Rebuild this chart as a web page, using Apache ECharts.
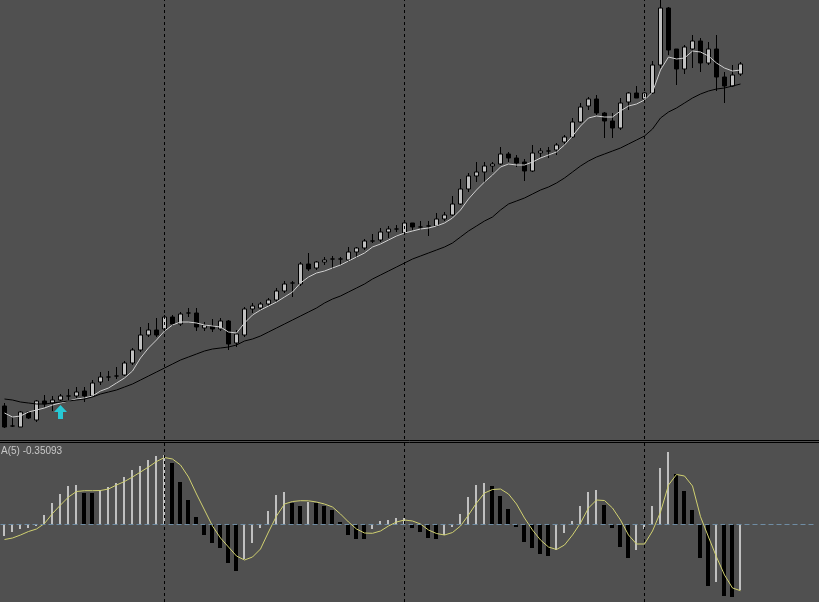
<!DOCTYPE html>
<html>
<head>
<meta charset="utf-8">
<script src="https://cdn.jsdelivr.net/npm/echarts@6/dist/echarts.min.js"></script>
<style>
html,body{margin:0;padding:0;background:#505050;}
#c{width:819px;height:602px;}
</style>
</head>
<body>
<div id="c"></div>
<script>
// ---- price bars (arbitrary price units) ----
const openP = [44,24,23,38,30,49,47,50,54,54,
  59,54,68,73,74,75,87,100,115,120,
  121,133,126,137,137,122,124,121,129,107,
  115,141,142,146,150,159,167,166,186,182,
  188,191,191,190,198,202,209,210,218,221,
  217,227,223,224,224,231,235,246,261,274,
  278,284,286,296,292,288,279,297,299,300,
  308,313,328,344,351,337,329,322,348,357,
  351,357,385,442,401,381,401,409,387,401,
  373,364,376];
const closeP = [23,24,38,32,49,46,50,54,54,58,
  54,67,73,73,74,87,100,115,120,115,
  133,126,136,137,123,125,121,129,106,116,
  141,144,146,150,159,166,167,186,181,188,
  190,191,191,198,202,209,209,218,221,221,
  227,223,223,224,231,235,246,261,274,278,
  284,286,296,292,287,279,297,299,299,305,
  313,328,343,351,337,329,322,347,357,352,
  357,385,442,400,381,403,409,387,401,373,
  364,375,386];
const highP = [47,33,39,39,50,55,54,56,61,63,
  63,70,78,79,83,89,102,123,127,132,
  135,135,138,142,142,128,131,132,130,120,
  143,147,148,152,162,169,169,188,197,189,
  193,194,193,203,203,211,216,222,224,225,
  229,227,229,229,237,238,254,271,277,288,
  288,288,303,298,295,291,305,302,303,307,
  315,332,347,353,355,338,337,352,358,364,
  358,389,450,443,401,405,415,412,408,415,
  378,385,388];
const lowP = [22,23,23,31,28,43,39,49,49,52,
  48,53,65,69,71,74,85,98,113,113,
  118,124,124,133,119,119,118,119,100,103,
  113,137,140,144,148,157,153,164,179,180,
  185,181,185,188,192,200,207,208,212,218,
  215,220,220,214,223,229,234,245,258,268,
  267,278,285,288,283,269,278,293,292,295,
  305,312,327,340,335,312,312,320,340,352,
  350,356,382,395,365,376,382,378,385,359,
  347,363,374];
// fast moving average (light line)
const maFast = [37,33,34,38,40,42,45,47,49,51,
  52,54,59,62,67,72,79,92,102,110,
  119,125,128,128,127,125,124,123,118,117,
  127,135,140,144,148,153,158,167,173,177,
  179,182,185,189,193,197,203,206,210,214,
  217,219,221,222,224,227,232,240,251,260,
  268,275,283,286,285,285,288,292,295,298,
  305,314,324,332,334,333,333,339,344,346,
  350,358,380,393,391,392,399,398,394,387,
  382,379,380];
// slow moving average (black line)
const maSlow = [51,50,48,47,46,46,47,48,49,50,
  51,53,56,58,60,63,66,70,74,78,
  82,86,90,93,96,99,101,102,103,105,
  109,111,114,118,122,126,130,134,138,142,
  147,151,154,158,162,166,171,175,179,183,
  187,191,194,197,200,203,207,213,219,224,
  229,233,240,246,249,252,256,260,263,267,
  272,278,284,289,293,296,299,302,306,310,
  314,321,332,338,342,347,352,356,359,361,
  362,364,366];
// buy signal arrow
const arrowIdx = [7];
const arrowVal = [38];
// ---- oscillator panel ----
const osma = [-11.7,-7.7,-5.3,-4.3,-2,9,21.3,30,38,39,
  31.3,31.3,34,36.7,41.3,46.7,54,58,64,68.3,
  69,61.3,42.3,24,7.3,-11,-18.7,-23.7,-38.7,-46.7,
  -35.3,-18.7,-4.3,13.3,29,32.3,21.3,18.3,22.3,21.3,
  18.3,14,2.3,-11,-15,-15,-5.3,3,4,5.7,
  6,-3.7,-7.7,-13.7,-15,-11,-3.3,10,27.3,39,
  41.3,38,28,15,-2.7,-17.7,-23.7,-30,-31.7,-26,
  -8.7,3.3,18.3,32.3,34,19,-3.7,-23.3,-34.3,-26,
  -5,18,55.7,71.7,49.7,33,14,-33.7,-61.7,-57.7,
  -71.7,-72.7,-66];
const signal = [-15.5,-14,-11,-7.5,-5,0.5,10.5,19,27,32.5,
  33.3,33.3,33.5,35,39,42.5,47,52,57,62.5,
  66.5,65,59,47,30,14,-2,-14,-23,-32,
  -36,-33,-25,-8,8,20,22.5,23.3,23.2,22,
  20,17,10,2,-5,-9,-9.3,-7,-2,2,
  4,3,0,-6,-9.5,-11,-8.5,-2,9,21,
  31,34.5,35,30,20,6,-6,-16,-23,-25.5,
  -21,-11,1,16,24,23.5,16,4,-11,-20,
  -20,-7,12,39,49.5,48,38,7.3,-13,-33,
  -51,-64,-66.7];
const osmaLabel = 'A(5) -0.35093';
const separatorIdx = [20, 50, 80];

const nBars = openP.length;
const categories = Array.from({length: nBars + 9}, (_, i) => String(i + 1));
const candleData = openP.map((o, i) => [o, closeP[i], lowP[i], highP[i]]);
const histData = osma.map((v, i) => [i, v, (i === 0 || v > osma[i - 1]) ? 1 : 0]);

const chart = echarts.init(document.getElementById('c'), null, {renderer: 'canvas'});
const vLine = {
  symbol: ['none', 'none'], silent: true, label: {show: false},
  lineStyle: {color: '#000', type: [3, 3], width: 1},
  data: separatorIdx.map(i => ({xAxis: i}))
};
chart.setOption({
  animation: false,
  backgroundColor: '#505050',
  grid: [
    {left: 0.5, top: 0, width: 816, height: 439},
    {left: 0.5, top: 443, width: 816, height: 159}
  ],
  xAxis: [
    {type: 'category', gridIndex: 0, data: categories, boundaryGap: true,
     axisLine: {show: false}, axisTick: {show: false}, axisLabel: {show: false}, splitLine: {show: false}},
    {type: 'category', gridIndex: 1, data: categories, boundaryGap: true,
     axisLine: {show: false}, axisTick: {show: false}, axisLabel: {show: false}, splitLine: {show: false}}
  ],
  yAxis: [
    {type: 'value', gridIndex: 0, min: 11, max: 450, show: false, splitLine: {show: false}},
    {type: 'value', gridIndex: 1, min: -78, max: 81, show: false, splitLine: {show: false}}
  ],
  series: [
    {type: 'candlestick', xAxisIndex: 0, yAxisIndex: 0, data: candleData, barWidth: 4,
     itemStyle: {color: '#c0c0c0', color0: '#000000', borderColor: '#000000', borderColor0: '#000000', borderWidth: 1},
     markLine: vLine, z: 3},
    {type: 'line', xAxisIndex: 0, yAxisIndex: 0, data: maFast, showSymbol: false, symbol: 'none',
     lineStyle: {color: '#cfcfcf', width: 1}, z: 4},
    {type: 'line', xAxisIndex: 0, yAxisIndex: 0, data: maSlow, showSymbol: false, symbol: 'none',
     lineStyle: {color: '#000000', width: 1}, z: 4},
    {type: 'scatter', xAxisIndex: 0, yAxisIndex: 0,
     data: arrowIdx.map((i, k) => [i, arrowVal[k]]),
     symbol: 'path://M6.5,0 L13,7 L9,7 L9,14 L4,14 L4,7 L0,7 Z', symbolSize: [13, 14],
     itemStyle: {color: '#1de6f5'}, z: 5},
    {type: 'custom', xAxisIndex: 1, yAxisIndex: 1, data: histData,
     renderItem: function (params, api) {
       const i = api.value(0), v = api.value(1), up = api.value(2) === 1;
       const p0 = api.coord([i, 0]), p1 = api.coord([i, v]);
       const w = up ? 2 : 4;
       const x = Math.floor(p0[0]) - w / 2;
       const y0 = Math.round(p0[1]), y1 = Math.round(p1[1]);
       return {type: 'rect', shape: {x: x, y: Math.min(y0, y1), width: w, height: Math.abs(y1 - y0)},
               style: {fill: up ? '#c0c0c0' : '#000000'}};
     },
     markLine: {
       symbol: ['none', 'none'], silent: true, label: {show: false},
       lineStyle: {color: '#6f8ca3', type: [5, 3], width: 1},
       data: [{yAxis: 0}]
     }, z: 2},
    {type: 'line', xAxisIndex: 1, yAxisIndex: 1, data: signal, showSymbol: false, symbol: 'none',
     lineStyle: {color: '#d0d070', width: 1}, markLine: vLine, z: 4}
  ],
  graphic: [
    {type: 'line', shape: {x1: 0, y1: 440.5, x2: 819, y2: 440.5}, style: {stroke: '#000', lineWidth: 1}, z: 10},
    {type: 'line', shape: {x1: 0, y1: 442.5, x2: 819, y2: 442.5}, style: {stroke: '#000', lineWidth: 1}, z: 10},
    {type: 'text', left: 1, top: 446, style: {text: osmaLabel, fill: '#c8c8c8', font: '10px "Liberation Sans"'}, z: 10}
  ]
});
</script>
</body>
</html>
